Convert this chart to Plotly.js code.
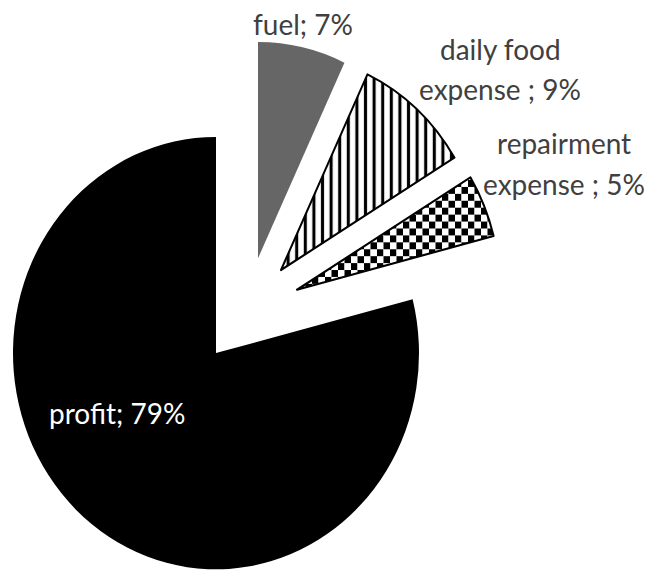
<!DOCTYPE html>
<html>
<head>
<meta charset="utf-8">
<script src="https://cdn.plot.ly/plotly-3.0.1.min.js"></script>
<style>
html,body{margin:0;padding:0;background:#fff;overflow:hidden}
#wrap{width:648px;height:572px;overflow:hidden}
#chart{width:648px;height:537px;transform:scale(1,1.0652);transform-origin:0 0}
</style>
</head>
<body>
<div id="wrap"><div id="chart"></div></div>
<script>
// ---- data ----
const categories = ['fuel', 'daily food expense ', 'repairment expense ', 'profit'];
const shares = [7, 9.3, 4.7, 79];
const wrapAfterWords = [0, 2, 1, 0];

// ---- style ----
const sliceColors = ['#666666', '#ffffff', '#ffffff', '#000000'];
const lineWidths = [0, 2, 2, 0];
const patternShapes = ['', '|', '+', ''];
const labelColors = ['#404040', '#404040', '#404040', '#ffffff'];

// ---- layout geometry (pixels, before vertical stretch) ----
const W = 648, H = 537, R = 203;
const sliceCenters = [[258, 242.5], [281, 253.5], [297, 272], [216, 331.5]];
const labelPos = [[303, 22], [500, 45], [564, 134], [117, 387]];
const lineGap = 38;

const total = shares.reduce((a, b) => a + b, 0);
const drawOrder = [3, 0, 1, 2];

const traces = drawOrder.map(i => {
  const [cx, cy] = sliceCenters[i];
  return {
    type: 'pie',
    values: shares,
    labels: categories,
    sort: false,
    direction: 'clockwise',
    rotation: 0,
    textinfo: 'none',
    hoverinfo: 'skip',
    showlegend: false,
    domain: {
      x: [(cx - R) / W, (cx + R) / W],
      y: [1 - (cy + R) / H, 1 - (cy - R) / H]
    },
    marker: {
      colors: categories.map((_, j) => j === i ? sliceColors[j] : 'rgba(0,0,0,0)'),
      line: {
        color: '#000000',
        width: categories.map((_, j) => j === i ? lineWidths[j] : 0)
      },
      pattern: {
        shape: categories.map((_, j) => j === i ? patternShapes[j] : ''),
        fgcolor: '#000000',
        bgcolor: '#ffffff',
        size: categories.map((_, j) => j === 1 ? 8.6 : 12),
        solidity: categories.map((_, j) => j === 1 ? 0.36 : 0.5),
        fillmode: 'replace'
      }
    }
  };
});

const annotations = [];
categories.forEach((cat, i) => {
  const pct = Math.round(shares[i] / total * 100);
  const full = cat + '; ' + pct + '%';
  let lines = [full];
  if (wrapAfterWords[i] > 0) {
    const words = full.split(' ');
    lines = [words.slice(0, wrapAfterWords[i]).join(' '), words.slice(wrapAfterWords[i]).join(' ')];
  }
  lines.forEach((ln, k) => {
    annotations.push({
      text: ln,
      xref: 'paper', yref: 'paper',
      x: labelPos[i][0] / W,
      y: 1 - (labelPos[i][1] + k * lineGap) / H,
      xanchor: 'center', yanchor: 'middle',
      showarrow: false,
      font: {family: 'Lato, sans-serif', size: 28, color: labelColors[i]}
    });
  });
});

const layout = {
  width: W, height: H,
  margin: {l: 0, r: 0, t: 0, b: 0},
  paper_bgcolor: '#ffffff',
  plot_bgcolor: '#ffffff',
  showlegend: false,
  annotations: annotations
};

Plotly.newPlot('chart', traces, layout, {staticPlot: true, displayModeBar: false}).then(gd => {
  // turn the repairment slice grid pattern into a checkerboard
  const traceGroups = gd.querySelectorAll('.pielayer .trace');
  const tr = traceGroups[drawOrder.indexOf(2)];
  if (!tr) return;
  tr.querySelectorAll('path.surface').forEach(p => {
    const f = (p.style && p.style.fill) || p.getAttribute('fill') || '';
    const m = f.match(/#([^"')\s]+)/);
    if (!m) return;
    const pat = document.getElementById(m[1]);
    if (!pat) return;
    const ns = 'http://www.w3.org/2000/svg';
    const s = 6.5;
    pat.setAttribute('width', 2 * s);
    pat.setAttribute('height', 2 * s);
    pat.setAttribute('patternUnits', 'userSpaceOnUse');
    while (pat.firstChild) pat.removeChild(pat.firstChild);
    const mk = (x, y, c) => {
      const r = document.createElementNS(ns, 'rect');
      r.setAttribute('x', x); r.setAttribute('y', y);
      r.setAttribute('width', s); r.setAttribute('height', s);
      r.setAttribute('fill', c);
      pat.appendChild(r);
    };
    mk(0, 0, '#000'); mk(s, 0, '#fff'); mk(0, s, '#fff'); mk(s, s, '#000');
  });
});
</script>
</body>
</html>
